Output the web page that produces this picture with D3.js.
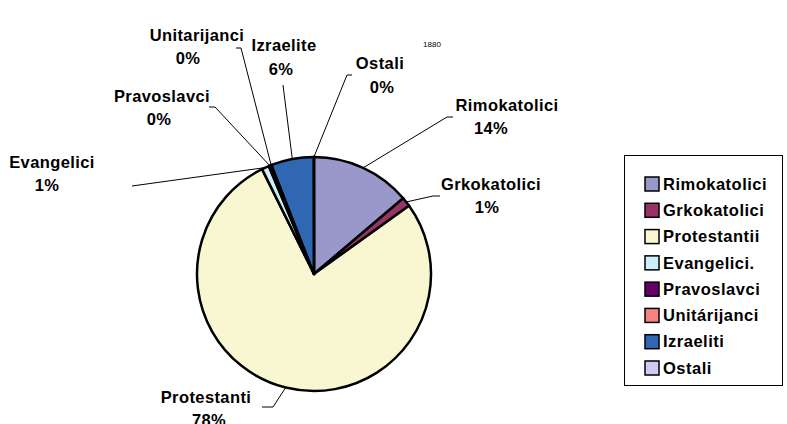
<!DOCTYPE html>
<html>
<head>
<meta charset="utf-8">
<script src="https://cdn.jsdelivr.net/npm/d3@7"></script>
<style>
	body { margin: 0; background: #fff; }
	svg { display: block; font-family: "Liberation Sans", Arial, sans-serif; }
</style>
</head>
<body>
<div id="plot"></div>
<script>
// Data (share of population, %, 1880).
var title = "1880";
var categories = ["Rimokatolici", "Grkokatolici", "Protestantii", "Evangelici.", "Pravoslavci", "Unitárijanci", "Izraeliti", "Ostali"];
var sliceLabels = ["Rimokatolici", "Grkokatolici", "Protestanti", "Evangelici", "Pravoslavci", "Unitarijanci", "Izraelite", "Ostali"];
var values = [13.8, 1.3, 77.6, 1.0, 0.3, 0.1, 5.9, 0.02];
var colors = ["#9a98ca", "#993366", "#f9f7d2", "#cdeef4", "#660066", "#f58383", "#2f67b2", "#ccccf0"];

// Label layout: [name x, name y, percent x, percent y, elbow x, elbow y, tick end x]
var labelLayout = [
	[507, 105, 491, 128, 447, 117, 453],
	[491, 184, 487, 207, 433, 196, 440],
	[206, 397, 209, 420, 273, 407, 262],
	[52, 162, 47, 185, 132, 186, 132],
	[162, 96, 159, 119, 215, 107, 209],
	[197, 35, 188, 58, 241, 48, 236],
	[284, 45, 281, 69, 283, 85, 283],
	[380, 63, 382, 87, 347, 75, 352]
];

var width = 787, height = 424;
var cx = 314, cy = 274, radius = 117;

var svg = d3.select("#plot")
	.append("svg")
	.attr("width", width)
	.attr("height", height);

// Title
svg.append("text")
	.attr("x", 432)
	.attr("y", 47)
	.attr("text-anchor", "middle")
	.style("font-size", "8px")
	.text(title);

// Pie
var pie = d3.pie().sort(null).value(function(d){ return d; });
var arcs = pie(values);
var arc = d3.arc().innerRadius(0).outerRadius(radius);
var edgeArc = d3.arc().innerRadius(radius).outerRadius(radius);

var g = svg.append("g")
	.attr("transform", "translate(" + cx + "," + cy + ")");

g.selectAll("path.slice")
	.data(arcs)
	.enter()
	.append("path")
		.attr("class", "slice")
		.attr("d", arc)
		.attr("fill", function(d, i){ return colors[i]; })
		.attr("stroke", "#000")
		.attr("stroke-width", 2.5)
		.attr("stroke-linejoin", "round");

// Leader lines
svg.append("g")
	.selectAll("polyline")
	.data(arcs)
	.enter()
	.append("polyline")
		.attr("points", function(d, i){
			var c = edgeArc.centroid(d);
			var l = labelLayout[i];
			return [[cx + c[0], cy + c[1]], [l[4], l[5]], [l[6], l[5]]].join(" ");
		})
		.attr("fill", "none")
		.attr("stroke", "#000")
		.attr("stroke-width", 1);

// Slice labels
var labels = svg.append("g")
	.selectAll("g")
	.data(arcs)
	.enter()
	.append("g")
	.style("font-size", "16.5px")
	.style("font-weight", "bold")
	.style("letter-spacing", "0.4px")
	.attr("text-anchor", "middle");
labels.append("text")
	.attr("x", function(d, i){ return labelLayout[i][0]; })
	.attr("y", function(d, i){ return labelLayout[i][1]; })
	.attr("dy", "0.35em")
	.text(function(d, i){ return sliceLabels[i]; });
labels.append("text")
	.attr("x", function(d, i){ return labelLayout[i][2]; })
	.attr("y", function(d, i){ return labelLayout[i][3]; })
	.attr("dy", "0.35em")
	.text(function(d){ return Math.round(d.value) + "%"; });

// Legend
var legendBox = svg.append("g").attr("transform", "translate(624,155)");
legendBox.append("rect")
	.attr("x", 0.5)
	.attr("y", 0.5)
	.attr("width", 158)
	.attr("height", 230)
	.attr("fill", "#fff")
	.attr("stroke", "#000")
	.attr("stroke-width", 1);

var rowY = d3.scalePoint().domain(categories).range([29, 213]);
var item = legendBox.selectAll("g.item")
	.data(categories)
	.enter()
	.append("g")
	.attr("class", "item")
	.attr("transform", function(d){ return "translate(0," + rowY(d) + ")"; });
item.append("rect")
	.attr("x", 21)
	.attr("y", -7)
	.attr("width", 14)
	.attr("height", 14)
	.attr("fill", function(d, i){ return colors[i]; })
	.attr("stroke", "#000")
	.attr("stroke-width", 1.5);
item.append("text")
	.attr("x", 39)
	.attr("dy", "0.35em")
	.style("font-size", "16.5px")
	.style("font-weight", "bold")
	.style("letter-spacing", "0.5px")
	.text(function(d){ return d; });
</script>
</body>
</html>
